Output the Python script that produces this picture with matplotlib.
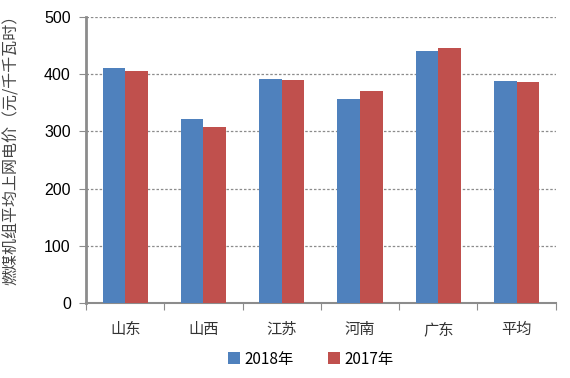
import matplotlib.pyplot as plt
import numpy as np

plt.rcParams['font.family'] = ['Noto Sans CJK SC', 'DejaVu Sans']

provinces = ['山东', '山西', '江苏', '河南', '广东', '平均']
price_2018 = [411, 322, 392, 357, 441, 388]
price_2017 = [406, 308, 390, 371, 446, 386]
yticks = [0, 100, 200, 300, 400, 500]

fig = plt.figure(figsize=(5.7, 3.78), dpi=100)
ax = fig.add_axes([0.151, 0.198, 0.824, 0.757])

x = np.arange(len(provinces))
w = 0.29
ax.bar(x - w / 2, price_2018, w, color='#4f81bd', label='2018年', zorder=3)
ax.bar(x + w / 2, price_2017, w, color='#c0504d', label='2017年', zorder=3)

ax.set_xlim(-0.5, len(provinces) - 0.5)
ax.set_ylim(0, 500)
ax.set_yticks(yticks)
ax.set_yticklabels([str(v) for v in yticks], fontsize=11.5, family='Liberation Sans')
ax.yaxis.grid(True, linestyle=(0, (2, 1.5)), color='#8c8c8c', linewidth=0.9, zorder=0)

# category ticks sit on the boundaries, labels in the middle
ax.set_xticks(np.arange(-0.5, len(provinces)), minor=False)
ax.set_xticklabels([])
ax.set_xticks(x, minor=True)
ax.set_xticklabels(provinces, minor=True, fontsize=11, color='#333333')
ax.tick_params(axis='x', which='major', length=5, color='#8c8c8c')
ax.tick_params(axis='x', which='minor', length=0, pad=13)
ax.tick_params(axis='y', length=5, color='#8c8c8c', pad=6)

for s in ['top', 'right']:
    ax.spines[s].set_visible(False)
ax.spines['left'].set_color('#8c8c8c')
ax.spines['left'].set_linewidth(2)
ax.spines['bottom'].set_color('#8c8c8c')
ax.spines['bottom'].set_linewidth(1.5)

ax.set_ylabel('燃煤机组平均上网电价（元/千千瓦时）', fontsize=11.5, color='#444444')
ax.yaxis.set_label_coords(-0.14, 0.55)

fig.legend(loc='center', bbox_to_anchor=(0.545, 0.05), ncol=2, frameon=False,
           fontsize=11, handlelength=0.8, handleheight=0.8, columnspacing=2.2, handletextpad=0.3)

fig.savefig('out.png', dpi=100)
